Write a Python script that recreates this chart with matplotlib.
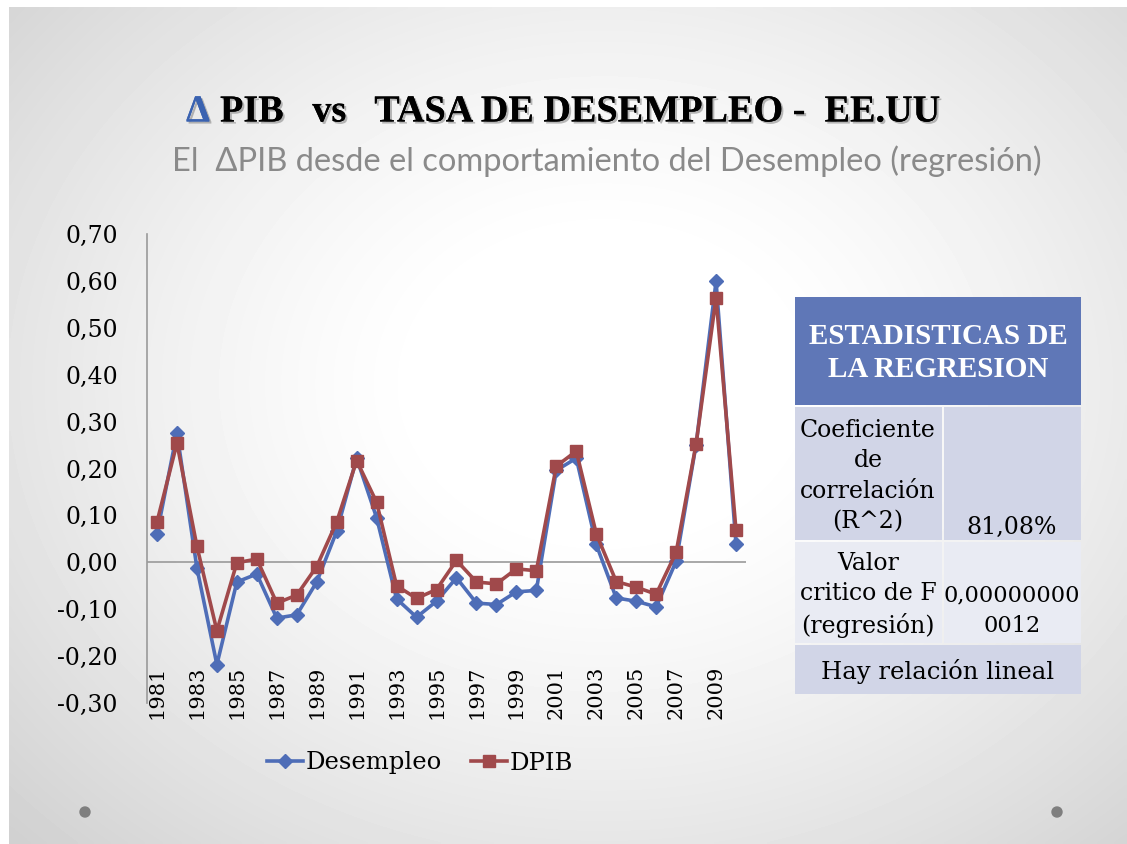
import matplotlib.pyplot as plt
import numpy as np
from matplotlib.lines import Line2D
from matplotlib import patheffects as pe
from matplotlib.patches import Rectangle, Circle

years = [str(y) for y in range(1981, 2011)]
desempleo = [0.061, 0.276, -0.012, -0.218, -0.042, -0.025, -0.119, -0.112, -0.042, 0.066,
             0.222, 0.095, -0.078, -0.117, -0.083, -0.033, -0.087, -0.090, -0.063, -0.060,
             0.196, 0.222, 0.038, -0.076, -0.083, -0.095, 0.002, 0.251, 0.599, 0.038]
dpib = [0.086, 0.254, 0.034, -0.146, -0.001, 0.007, -0.087, -0.070, -0.009, 0.086,
        0.217, 0.128, -0.050, -0.077, -0.058, 0.004, -0.042, -0.046, -0.014, -0.018,
        0.205, 0.237, 0.061, -0.041, -0.053, -0.068, 0.021, 0.252, 0.564, 0.068]
y_ticks = [-0.30, -0.20, -0.10, 0.00, 0.10, 0.20, 0.30, 0.40, 0.50, 0.60, 0.70]

table_header = "ESTADISTICAS DE\nLA REGRESION"
row_labels = ["Coeficiente\nde\ncorrelación\n(R^2)", "Valor\ncritico de F\n(regresión)"]
row_values = ["81,08%", "0,00000000\n0012"]
table_footer = "Hay relación lineal"

BLUE = "#4e6db7"
RED = "#a0494b"
SERIF = ["Liberation Serif", "DejaVu Serif"]
BODY = ["DejaVu Serif"]

W, H = 1127, 844
fig = plt.figure(figsize=(W / 100, H / 100), dpi=100)
fig.patch.set_facecolor("white")

# slide background: soft radial gradient, white in the middle, gray at the corners
bg = fig.add_axes([0, 0, 1, 1])
bg.set_xlim(0, W)
bg.set_ylim(H, 0)
bg.axis("off")
gx, gy = np.meshgrid(np.linspace(0, W, 300), np.linspace(0, H, 240))
r = np.sqrt(((gx - 600) / 700) ** 2 + ((gy - 380) / 560) ** 2)
shade = np.clip(1.0 - 0.2 * np.clip(r - 0.25, 0, None) ** 1.3, 0.82, 1.0)
bg.imshow(shade, cmap="gray", vmin=0, vmax=1, extent=(9, W, H, 7),
          interpolation="bilinear", zorder=0)
for cx in (85, 1057):
    bg.add_patch(Circle((cx, 812), 5, color="#7f7f7f", zorder=1))

# titles
shadow = [pe.withSimplePatchShadow(offset=(1.5, -1.5), shadow_rgbFace="#777", alpha=0.5),
          pe.Normal()]
t1 = bg.text(186, 112, "Δ", fontsize=27.5, fontweight="bold", color="#3a62b0",
             family=SERIF, va="center", ha="left", zorder=3)
t1.set_path_effects(shadow)
t2 = bg.text(220, 112, "PIB   vs   TASA DE DESEMPLEO -  EE.UU", fontsize=27.5,
             fontweight="bold", color="black", family=SERIF, va="center",
             ha="left", zorder=3)
t2.set_path_effects(shadow)
bg.text(172, 161, "El  ΔPIB desde el comportamiento del Desempleo (regresión)",
        fontsize=23.5, color="#8a8a8a", family=["Lato", "DejaVu Sans"],
        va="center", ha="left", zorder=3)

# regression statistics table
def cell(x0, y0, x1, y1, color):
    bg.add_patch(Rectangle((x0, y0), x1 - x0, y1 - y0, facecolor=color,
                           edgecolor="none", zorder=2))

cell(795, 297, 1081, 405, "#5f77b7")
cell(795, 407, 942, 540, "#d1d5e7")
cell(944, 407, 1081, 540, "#d1d5e7")
cell(795, 542, 942, 643, "#e9ebf3")
cell(944, 542, 1081, 643, "#e9ebf3")
cell(795, 645, 1081, 694, "#d1d5e7")
bg.text(938, 353, table_header, fontsize=21, fontweight="bold", color="white",
        family=SERIF, ha="center", va="center", linespacing=1.3, zorder=3)
bg.text(868, 476, row_labels[0], fontsize=17, color="black", family=BODY,
        ha="center", va="center", linespacing=1.42, zorder=3)
bg.text(1012, 527, row_values[0], fontsize=17, color="black", family=BODY,
        ha="center", va="center", zorder=3)
bg.text(868, 595, row_labels[1], fontsize=17, color="black", family=BODY,
        ha="center", va="center", linespacing=1.42, zorder=3)
bg.text(1012, 611, row_values[1], fontsize=16.2, color="black", family=BODY,
        ha="center", va="center", linespacing=1.48, zorder=3)
bg.text(938, 671, table_footer, fontsize=17.5, color="black", family=BODY,
        ha="center", va="center", zorder=3)

# line chart
ax = fig.add_axes([147 / W, 1 - 703 / H, (746 - 147) / W, (703 - 234) / H])
ax.patch.set_alpha(0)
x = np.arange(len(years))
ax.plot(x, desempleo, color=BLUE, lw=2.6, marker="D", ms=7.5, zorder=3,
        label="Desempleo")
ax.plot(x, dpib, color=RED, lw=2.6, marker="s", ms=9, zorder=4, label="DPIB")
ax.set_xlim(-0.5, len(years) - 0.5)
ax.set_ylim(-0.30, 0.70)
ax.set_yticks(y_ticks)
ax.set_yticklabels([f"{v:.2f}".replace(".", ",") for v in y_ticks],
                   family=BODY, fontsize=17)
ax.tick_params(axis="y", length=0, pad=21)
ax.set_xticks([])
for side in ("top", "right", "bottom"):
    ax.spines[side].set_visible(False)
ax.spines["left"].set_color("#9a9a9a")
ax.spines["left"].set_linewidth(1.2)
ax.axhline(0, color="#9a9a9a", lw=1.2, zorder=1)
for i, yr in enumerate(years):
    if i % 2 == 0:
        ax.text(i, -0.335, yr, rotation=90, ha="center", va="bottom",
                family=BODY, fontsize=15, clip_on=False)

handles = [Line2D([], [], color=BLUE, lw=2.6, marker="D", ms=7.5),
           Line2D([], [], color=RED, lw=2.6, marker="s", ms=9)]
fig.legend(handles, ["Desempleo", "DPIB"], loc="center",
           bbox_to_anchor=(420 / W, 1 - 763 / H), ncol=2, frameon=False,
           prop={"family": BODY, "size": 17.5}, handlelength=1.5,
           handletextpad=0.1, columnspacing=1.2)

fig.savefig("out.png", dpi=100, facecolor=fig.get_facecolor())
